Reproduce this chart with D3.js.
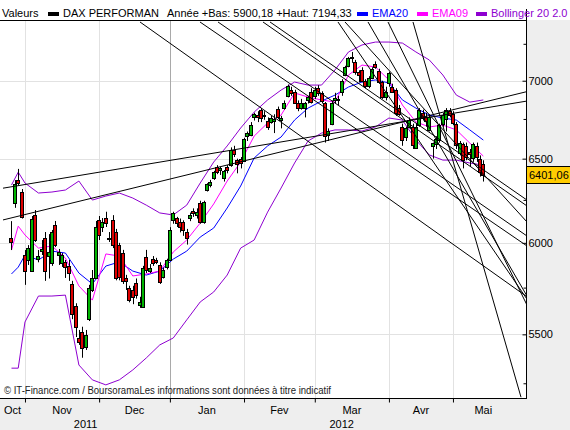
<!DOCTYPE html>
<html>
<head>
<meta charset="utf-8">
<script src="https://cdn.jsdelivr.net/npm/d3@7"></script>
<style>
  body { margin: 0; background: #fff; }
  svg { display: block; }
  text { font-family: "Liberation Sans", Arial, sans-serif; }
</style>
</head>
<body>
<div id="chart"></div>
<script>
// daily candles, index 0 = 26 Oct 2011 ... index 140 = 15 May 2012
var opens = [6028,6232,6369,6297,5930,5903,5842,6161,5908,5955,6028,5925,5886,6103,5931,5886,5892,5870,5770,5650,5481,5513,5434,5581,5737,5803,6132,
  6091,6143,6025,6132,6062,5987,5942,5803,5748,5737,5776,5656,5645,5920,5842,5909,5903,5875,5808,5864,
  5903,6132,6143,6120,6120,6062,6140,6185,6165,6230,6120,6309,6337,6381,6448,6430,6380,6448,6460,6553,6491,6497,
  6485,6642,6648,6762,6775,6807,6770,6737,6730,6740,6813,6745,6820,6899,6940,6925,6855,6820,6823,6870,6925,
  6900,6950,6920,6853,6645,6720,6870,6880,6930,7037,7098,7150,7125,7057,7070,6995,6970,7020,7110,7065,6991,6890,
  6985,6960,6938,6820,6700,6630,6700,6700,6570,6712,6790,6760,6680,6575,6590,6616,6720,6750,6800,
  6780,6720,6540,6590,6580,6540,6500,6580,6500,6470];
var highs = [6125,6369,6437,6315,5959,5987,6155,6190,5959,6016,6062,6050,6074,6126,5965,5942,5903,5903,5787,5665,5523,5540,5523,5765,5847,6126,6155,
  6143,6180,6062,6160,6080,6000,5960,5820,5760,5760,5800,5700,5870,5960,5880,5925,5915,5890,5860,5910,
  6090,6180,6150,6140,6130,6080,6175,6200,6200,6245,6245,6350,6370,6425,6460,6450,6430,6460,6570,6580,6500,6510,
  6630,6670,6730,6790,6800,6820,6800,6760,6770,6780,6830,6770,6870,6975,6960,6940,6870,6880,6860,6900,6950,
  6960,6970,6930,6860,6690,6870,6920,6900,7010,7100,7160,7194,7140,7070,7090,7010,7030,7090,7130,7080,7000,6960,
  7060,6980,6950,6840,6720,6700,6760,6720,6720,6820,6810,6790,6780,6600,6640,6720,6790,6820,6820,
  6800,6730,6610,6600,6600,6560,6600,6600,6520,6490];
var lows = [5959,6203,6337,6140,5765,5875,5836,6005,5890,5931,5787,5800,5870,5976,5875,5864,5803,5787,5580,5486,5445,5379,5419,5570,5726,5798,6016,
  6062,6091,6005,5970,5790,5790,5770,5737,5670,5660,5690,5640,5640,5830,5830,5870,5880,5770,5800,5850,
  5900,6110,6091,6060,6040,5990,6125,6150,6140,6110,6110,6300,6325,6370,6405,6400,6360,6410,6450,6510,6410,6440,
  6480,6610,6640,6740,6730,6730,6745,6680,6720,6660,6750,6690,6810,6890,6900,6850,6800,6810,6760,6850,6850,
  6880,6900,6850,6600,6610,6710,6850,6840,6900,7030,7090,7120,7040,6990,6990,6950,6950,7010,7080,6980,6880,6870,
  6960,6920,6770,6770,6580,6610,6690,6560,6560,6700,6740,6700,6670,6500,6560,6600,6700,6670,6760,
  6710,6560,6520,6440,6490,6450,6480,6480,6390,6360];
var closes = [6005,6343,6350,6150,5842,5970,6137,6016,5925,5965,5842,5948,6062,5987,5948,5931,5864,5830,5608,5539,5460,5429,5497,5748,5803,6091,6045,
  6120,6114,6022,5987,5803,5808,5787,5787,5683,5699,5710,5672,5858,5847,5858,5886,5892,5781,5847,5903,
  6074,6173,6114,6091,6074,6028,6160,6175,6180,6120,6238,6343,6356,6418,6418,6440,6424,6430,6553,6530,6466,6472,
  6622,6660,6712,6780,6762,6756,6775,6698,6755,6750,6762,6755,6853,6964,6920,6855,6823,6850,6853,6890,6860,
  6940,6920,6866,6640,6671,6853,6885,6876,7000,7091,7152,7157,7057,7037,6995,6965,7020,7080,7090,6991,6895,6925,
  7050,6930,6790,6780,6616,6690,6743,6585,6700,6807,6756,6735,6760,6595,6620,6712,6775,6807,6775,
  6720,6590,6600,6490,6510,6525,6590,6510,6420,6401];

// indicator samples (candle index -> value)
var indIdx = [0,2,4,8,12,16,20,24,28,32,36,40,44,48,52,56,60,64,68,72,76,80,84,88,92,96,100,104,108,112,116,120,124,128,132,136,140];
var ema20 = [5825,5863,5930,5903,5953,5942,5830,5770,5869,5892,5841,5819,5841,5908,5953,6033,6085,6202,6333,6504,6579,6635,6743,6820,6866,6905,6958,6991,7005,6985,6873,6820,6775,6756,6743,6680,6616];
var ema09 = [5959,6096,6045,5970,5982,5914,5759,5682,5937,5925,5814,5825,5841,5948,6016,6114,6226,6363,6479,6641,6724,6775,6919,6892,6873,6859,7038,7105,7092,7005,6840,6731,6699,6711,6680,6597,6516];
var bollUp = [6339,6417,6351,6291,6297,6309,6363,6249,6273,6291,6261,6219,6173,6161,6219,6351,6479,6579,6692,6794,6873,6938,6991,6971,6971,7072,7194,7242,7262,7262,7255,7194,7139,7038,6905,6859,6873];
var bollLo = [5326,5326,5565,5704,5704,5709,5342,5267,5242,5267,5317,5378,5445,5481,5576,5672,5726,5819,5970,6016,6178,6321,6473,6610,6660,6680,6680,6673,6699,6756,6743,6616,6523,6491,6491,6473,6460];

// trend lines: [index1, price1, index2, price2]
var trendLines = [
  [-2.52, 6320, 152.97, 6866],
  [-2.52, 6132, 152.97, 6928],
  [38.13, 7402, 152.97, 5700],
  [55.93, 7402, 152.97, 5982],
  [61.28, 7402, 152.97, 6039],
  [74.63, 7402, 152.97, 6214],
  [76.71, 7402, 152.97, 6249],
  [96.88, 7402, 152.97, 5687],
  [98.96, 7402, 152.97, 6120],
  [105.79, 7402, 152.97, 5704],
  [111.72, 7402, 152.97, 5655],
  [119.14, 7402, 151.19, 5181]
];

var priceTicks = [5500, 6000, 6500, 7000];
var minorTicks = [5250, 5750, 6250, 6750, 7250];
var monthNames = ["Oct", "Nov", "Dec", "Jan", "Fev", "Mar", "Avr", "Mai"];
var monthBounds = [-3.4, 4, 26, 47, 69, 90, 112, 131, 149];
var yearNames = ["2011", "2012"];
var yearMid = [22, 98];
var lastPrice = "6401,06";

var W = 570, H = 430;
var plotRight = 526, plotTop = 20, plotBottom = 398;

var svg = d3.select("#chart").append("svg")
    .attr("width", W)
    .attr("height", H);

svg.append("rect").attr("width", W).attr("height", H).attr("fill", "#eeeeee");
svg.append("rect").attr("width", W).attr("height", plotTop).attr("fill", "#fff");
svg.append("rect").attr("x", 0).attr("y", plotTop).attr("width", plotRight).attr("height", plotBottom - plotTop).attr("fill", "#fff");

var xScale = d3.scaleLinear()
    .domain([-2.52, 152.97])
    .range([3, 527]);

var yScale = d3.scaleLog()
    .domain([5177, 7423])
    .range([398, 19]);

svg.append("clipPath").attr("id", "plotclip")
  .append("rect")
    .attr("x", 0).attr("y", plotTop + 1)
    .attr("width", plotRight).attr("height", plotBottom - plotTop - 1);

var plot = svg.append("g").attr("clip-path", "url(#plotclip)");

// grid
plot.selectAll(".hgrid")
    .data(priceTicks)
    .enter().append("line")
    .attr("class", "hgrid")
    .attr("x1", 0).attr("x2", plotRight)
    .attr("y1", function(d) { return Math.round(yScale(d)) + 0.5; })
    .attr("y2", function(d) { return Math.round(yScale(d)) + 0.5; })
    .attr("stroke", "#e2e2e2");

plot.selectAll(".vgrid")
    .data(monthBounds.slice(1, 8))
    .enter().append("line")
    .attr("class", "vgrid")
    .attr("x1", function(d) { return Math.round(xScale(d)) + 0.5; })
    .attr("x2", function(d) { return Math.round(xScale(d)) + 0.5; })
    .attr("y1", plotTop).attr("y2", plotBottom)
    .attr("stroke", function(d, i) { return i == 2 ? "#a9a9a9" : "#e2e2e2"; });

// watermark
svg.append("text")
    .text("\u00a9 IT-Finance.com / BoursoramaLes informations sont donn\u00e9es \u00e0 titre indicatif")
    .attr("x", 4).attr("y", 394)
    .attr("textLength", 327)
    .attr("lengthAdjust", "spacingAndGlyphs")
    .attr("font-size", "10px")
    .attr("fill", "#222");

// indicators
function indLine(values) {
  return d3.line()
    .x(function(d, i) { return xScale(indIdx[i]); })
    .y(function(d) { return yScale(d); })(values);
}

plot.append("path").attr("d", indLine(bollUp)).attr("fill", "none").attr("stroke", "#8e00d0").attr("stroke-width", 1);
plot.append("path").attr("d", indLine(bollLo)).attr("fill", "none").attr("stroke", "#8e00d0").attr("stroke-width", 1);
plot.append("path").attr("d", indLine(ema20)).attr("fill", "none").attr("stroke", "#0000ff").attr("stroke-width", 1);
plot.append("path").attr("d", indLine(ema09)).attr("fill", "none").attr("stroke", "#ff00ff").attr("stroke-width", 1);

// candles
var candles = d3.range(closes.length);

plot.selectAll(".wick")
    .data(candles)
    .enter().append("line")
    .attr("class", "wick")
    .attr("x1", function(i) { return Math.round(xScale(i)) + 0.5; })
    .attr("x2", function(i) { return Math.round(xScale(i)) + 0.5; })
    .attr("y1", function(i) { return yScale(highs[i]); })
    .attr("y2", function(i) { return yScale(lows[i]); })
    .attr("stroke", "#000");

plot.selectAll(".body")
    .data(candles)
    .enter().append("rect")
    .attr("class", "body")
    .attr("x", function(i) { return Math.round(xScale(i)) - 1; })
    .attr("width", 3)
    .attr("y", function(i) { return Math.round(yScale(Math.max(opens[i], closes[i]))) + 0.5; })
    .attr("height", function(i) {
      return Math.max(1, Math.round(yScale(Math.min(opens[i], closes[i])) - yScale(Math.max(opens[i], closes[i]))));
    })
    .attr("fill", function(i) { return closes[i] >= opens[i] ? "#00b400" : "#dd0000"; })
    .attr("stroke", "#000")
    .attr("stroke-width", 1)
    .attr("transform", "translate(-0.5,0)");

// trend lines
plot.selectAll(".trend")
    .data(trendLines)
    .enter().append("line")
    .attr("class", "trend")
    .attr("x1", function(d) { return xScale(d[0]); })
    .attr("y1", function(d) { return yScale(d[1]); })
    .attr("x2", function(d) { return xScale(d[2]); })
    .attr("y2", function(d) { return yScale(d[3]); })
    .attr("stroke", "#000")
    .attr("stroke-width", 1);

// frame
svg.append("line").attr("x1", 0).attr("x2", plotRight + 0.5).attr("y1", plotTop + 0.5).attr("y2", plotTop + 0.5).attr("stroke", "#000");
svg.append("line").attr("x1", 0).attr("x2", plotRight + 0.5).attr("y1", plotBottom + 0.5).attr("y2", plotBottom + 0.5).attr("stroke", "#000");
svg.append("line").attr("x1", plotRight + 0.5).attr("x2", plotRight + 0.5).attr("y1", 9).attr("y2", plotBottom + 1).attr("stroke", "#000");

// right axis
var yAxis = d3.axisRight(yScale)
    .tickValues(priceTicks)
    .tickSize(-4)
    .tickPadding(2)
    .tickFormat(d3.format("d"));

var yAxisG = svg.append("g")
    .attr("class", "axis y-axis")
    .attr("transform", "translate(" + (plotRight + 0.5) + ",0)")
    .call(yAxis);
yAxisG.select(".domain").remove();
yAxisG.selectAll("text").attr("font-size", "11px").attr("fill", "#000").style("font-family", "Liberation Sans, Arial, sans-serif");
yAxisG.selectAll(".tick line").attr("stroke", "#000");

var yMinor = svg.append("g")
    .attr("transform", "translate(" + (plotRight + 0.5) + ",0)")
    .call(d3.axisRight(yScale).tickValues(minorTicks).tickSize(-3).tickFormat(""));
yMinor.select(".domain").remove();

// last price box
svg.append("rect")
    .attr("x", plotRight + 0.5).attr("y", 166.5)
    .attr("width", 44).attr("height", 17)
    .attr("fill", "#ffcc00")
    .attr("stroke", "#000");
svg.append("text")
    .text(lastPrice)
    .attr("x", plotRight + 3).attr("y", 179)
    .attr("font-size", "11px")
    .attr("fill", "#000");

// bottom axis
var xAxis = d3.axisBottom(xScale)
    .tickValues(monthBounds.slice(1, 8))
    .tickSize(4)
    .tickFormat("");

var xAxisG = svg.append("g")
    .attr("class", "axis x-axis")
    .attr("transform", "translate(0," + (plotBottom + 0.5) + ")")
    .call(xAxis);
xAxisG.select(".domain").remove();
xAxisG.selectAll(".tick line").attr("stroke", "#000");

svg.selectAll(".month")
    .data(monthNames)
    .enter().append("text")
    .attr("class", "month")
    .text(function(d) { return d; })
    .attr("x", function(d, i) { return xScale((monthBounds[i] + monthBounds[i + 1]) / 2); })
    .attr("y", 414)
    .attr("text-anchor", "middle")
    .attr("font-size", "11px")
    .attr("fill", "#000");

svg.selectAll(".year")
    .data(yearNames)
    .enter().append("text")
    .attr("class", "year")
    .text(function(d) { return d; })
    .attr("x", function(d, i) { return xScale(yearMid[i]); })
    .attr("y", 428)
    .attr("text-anchor", "middle")
    .attr("font-size", "11px")
    .attr("fill", "#000");

// legend
var legend = [
  { x: 2, text: "Valeurs", color: "#000" },
  { x: 63, text: "DAX PERFORMAN", color: "#000", swatch: "#000" },
  { x: 167, text: "Ann\u00e9e +Bas: 5900,18 +Haut: 7194,33", color: "#000" },
  { x: 372, text: "EMA20", color: "#0000ff", swatch: "#0000ff" },
  { x: 432, text: "EMA09", color: "#ff00ff", swatch: "#ff00ff" },
  { x: 491, text: "Bollinger 20 2.0", color: "#8e00d0", swatch: "#8e00d0" }
];

svg.selectAll(".legend-text")
    .data(legend)
    .enter().append("text")
    .attr("class", "legend-text")
    .text(function(d) { return d.text; })
    .attr("x", function(d) { return d.x; })
    .attr("y", 17)
    .attr("font-size", "11px")
    .attr("fill", function(d) { return d.color; });

svg.selectAll(".legend-swatch")
    .data(legend.filter(function(d) { return d.swatch; }))
    .enter().append("rect")
    .attr("class", "legend-swatch")
    .attr("x", function(d) { return d.x - 15; })
    .attr("y", 12)
    .attr("width", 11)
    .attr("height", 4)
    .attr("fill", function(d) { return d.swatch; });
</script>
</body>
</html>
